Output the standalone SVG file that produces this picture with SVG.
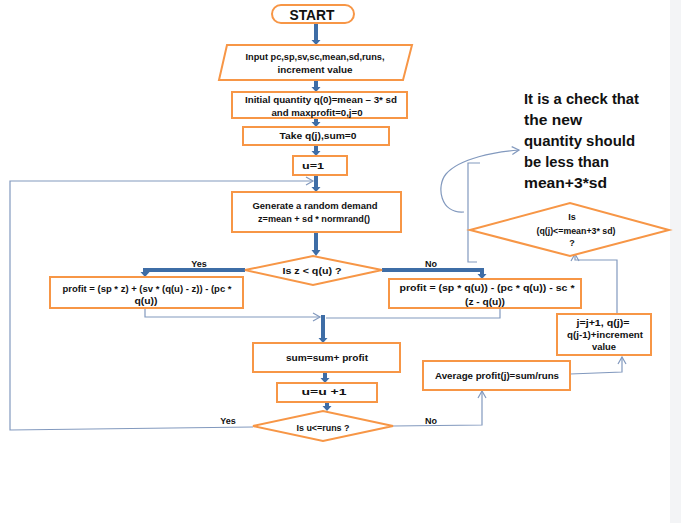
<svg xmlns="http://www.w3.org/2000/svg" width="681" height="523" viewBox="0 0 681 523">
<defs>
<style>
.n{fill:#fff;stroke:#F79646;stroke-width:2}
.t{font-family:"Liberation Sans",Arial,sans-serif;font-weight:bold;font-size:9px;fill:#111;text-anchor:middle}
.a{font-family:"Liberation Sans",Arial,sans-serif;font-weight:bold;font-size:15px;fill:#111}
.thick{fill:none;stroke:#3E6DA6;stroke-width:4;stroke-linejoin:miter}
.hd{fill:#3E6DA6}
.thin{fill:none;stroke:#8299BE;stroke-width:1.2}
</style>
<marker id="oh" markerWidth="10" markerHeight="10" refX="8" refY="5" orient="auto" markerUnits="userSpaceOnUse">
<path d="M1,1 L8,5 L1,9" fill="none" stroke="#8299BE" stroke-width="1.2"/>
</marker>
</defs>
<rect width="681" height="523" fill="#fff"/>
<rect x="670" y="0" width="11" height="523" fill="#F3F4F6"/>

<g id="connectors">
<path class="thick" d="M316,23 V40"/><polygon class="hd" points="311.5,40 320.5,40 316,45"/>
<path class="thick" d="M316,80 V87"/><polygon class="hd" points="311.5,87 320.5,87 316,92"/>
<path class="thick" d="M316,118 V122"/><polygon class="hd" points="311.5,122 320.5,122 316,127"/>
<path class="thick" d="M316,145 V151"/><polygon class="hd" points="311.5,151 320.5,151 316,156"/>
<path class="thick" d="M316,175 V187"/><polygon class="hd" points="311.5,187 320.5,187 316,192"/>
<path class="thick" d="M316,232 V250"/><polygon class="hd" points="311.5,250 320.5,250 316,256"/>
<path class="thick" d="M245,270 H145 V272"/><polygon class="hd" points="140.5,272 149.5,272 145,277"/>
<path class="thick" d="M382,270 H482 V274"/><polygon class="hd" points="477.5,274 486.5,274 482,279"/>
<path class="thick" d="M323,315 V338"/><polygon class="hd" points="318.5,338 327.5,338 323,343"/>
<path class="thick" d="M325,372 V378"/><polygon class="hd" points="320.5,378 329.5,378 325,383"/>
<path class="thick" d="M327,402 V406"/><polygon class="hd" points="322.5,406 331.5,406 327,411"/>
<path class="thin" d="M145,308 V317 H320" marker-end="url(#oh)"/>
<path class="thin" d="M500,308 V318 H326"/>
<path class="thin" d="M253,427 L10,430 V181 H313" marker-end="url(#oh)"/>
<path class="thin" d="M393,426 L482,425 V391" marker-end="url(#oh)"/>
<path class="thin" d="M570,374 L622,372 V357" marker-end="url(#oh)"/>
<path class="thin" d="M617,314 V260 H575 V254" marker-end="url(#oh)"/>
<path class="thin" d="M480,163 H468 V262 H477"/>
<path class="thin" d="M464,212 C440,214 436,186 446,174 C460,158 495,152 519,150" marker-end="url(#oh)"/>
<text class="t" x="199" y="267">Yes</text>
<text class="t" x="431" y="267">No</text>
<text class="t" x="228" y="424">Yes</text>
<text class="t" x="431" y="424">No</text>
</g>

<g id="start">
<rect class="n" x="272" y="5" width="82" height="18" rx="9"/>
<text x="312" y="20" font-family="Liberation Sans,Arial,sans-serif" font-weight="bold" font-size="15" text-anchor="middle" textLength="45" lengthAdjust="spacingAndGlyphs" fill="#111">START</text>
</g>
<g id="input">
<polygon class="n" points="227,45 412,45 403,80 219,80"/>
<text class="t" x="315" y="60" textLength="139" lengthAdjust="spacingAndGlyphs">Input pc,sp,sv,sc,mean,sd,runs,</text>
<text class="t" x="315" y="73" textLength="75" lengthAdjust="spacingAndGlyphs">increment  value</text>
</g>
<g id="init">
<rect class="n" x="232" y="92" width="175" height="26"/>
<text class="t" x="321" y="103" textLength="152" lengthAdjust="spacingAndGlyphs">Initial quantity q(0)=mean – 3* sd</text>
<text class="t" x="317" y="116" textLength="91" lengthAdjust="spacingAndGlyphs">and maxprofit=0,j=0</text>
</g>
<g id="take">
<rect class="n" x="243" y="127" width="146" height="18"/>
<text class="t" x="318" y="139" textLength="77" lengthAdjust="spacingAndGlyphs">Take q(j),sum=0</text>
</g>
<g id="u1">
<rect class="n" x="293" y="156" width="54" height="19"/>
<text class="t" x="313" y="169" textLength="22" lengthAdjust="spacingAndGlyphs">u=1</text>
</g>
<g id="generate">
<rect class="n" x="232" y="192" width="169" height="40"/>
<text class="t" x="315" y="209" textLength="125" lengthAdjust="spacingAndGlyphs">Generate a random demand</text>
<text class="t" x="314" y="222" textLength="112" lengthAdjust="spacingAndGlyphs">z=mean + sd * normrand()</text>
</g>
<g id="dec1">
<polygon class="n" points="245,270 313,256 382,270 313,285"/>
<text class="t" x="312" y="274" textLength="59" lengthAdjust="spacingAndGlyphs">Is z &lt; q(u) ?</text>
</g>
<g id="profitYes">
<rect class="n" x="50" y="277" width="193" height="31"/>
<text class="t" x="147" y="292" textLength="169" lengthAdjust="spacingAndGlyphs">profit = (sp * z) + (sv * (q(u) - z)) - (pc *</text>
<text class="t" x="146" y="304" textLength="23" lengthAdjust="spacingAndGlyphs">q(u))</text>
</g>
<g id="profitNo">
<rect class="n" x="389" y="279" width="192" height="29"/>
<text class="t" x="487" y="291" textLength="175" lengthAdjust="spacingAndGlyphs">profit = (sp * q(u)) - (pc * q(u)) - sc *</text>
<text class="t" x="485" y="305" textLength="40" lengthAdjust="spacingAndGlyphs">(z - q(u))</text>
</g>
<g id="sum">
<rect class="n" x="253" y="343" width="147" height="29"/>
<text class="t" x="327" y="361" textLength="82" lengthAdjust="spacingAndGlyphs">sum=sum+ profit</text>
</g>
<g id="uinc">
<rect class="n" x="277" y="383" width="100" height="19"/>
<text class="t" x="324" y="395" textLength="45" lengthAdjust="spacingAndGlyphs">u=u +1</text>
</g>
<g id="dec2">
<polygon class="n" points="253,426 323,411 393,426 323,441"/>
<text class="t" x="323" y="431" textLength="53" lengthAdjust="spacingAndGlyphs">Is u&lt;=runs ?</text>
</g>
<g id="average">
<rect class="n" x="423" y="361" width="147" height="29"/>
<text class="t" x="497" y="379" textLength="124" lengthAdjust="spacingAndGlyphs">Average profit(j)=sum/runs</text>
</g>
<g id="jinc">
<rect class="n" x="557" y="314" width="94" height="41"/>
<text class="t" x="603" y="326" textLength="53" lengthAdjust="spacingAndGlyphs">j=j+1, q(j)=</text>
<text class="t" x="605" y="338" textLength="76" lengthAdjust="spacingAndGlyphs">q(j-1)+increment</text>
<text class="t" x="604" y="350" textLength="24" lengthAdjust="spacingAndGlyphs">value</text>
</g>
<g id="dec3">
<polygon class="n" points="470,230 570,203 669,230 570,256"/>
<text class="t" x="572" y="220">Is</text>
<text class="t" x="576" y="234" textLength="79" lengthAdjust="spacingAndGlyphs">(q(j)&lt;=mean+3* sd)</text>
<text class="t" x="572" y="246">?</text>
</g>
<g id="note">
<text class="a" x="524" y="104" textLength="115" lengthAdjust="spacingAndGlyphs">It is a check that</text>
<text class="a" x="524" y="125" textLength="58" lengthAdjust="spacingAndGlyphs">the new</text>
<text class="a" x="524" y="146" textLength="111" lengthAdjust="spacingAndGlyphs">quantity should</text>
<text class="a" x="524" y="167" textLength="85" lengthAdjust="spacingAndGlyphs">be less than</text>
<text class="a" x="524" y="188" textLength="83" lengthAdjust="spacingAndGlyphs">mean+3*sd</text>
</g>
</svg>
